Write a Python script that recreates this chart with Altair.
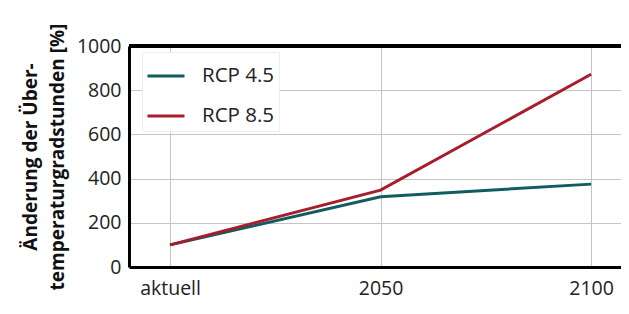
import altair as alt
import pandas as pd

periods = ["aktuell", "2050", "2100"]
series_names = ["RCP 4.5", "RCP 8.5"]
rcp45 = [100, 318, 375]
rcp85 = [100, 348, 872]
colors = ["#115c61", "#a61e2c"]
y_ticks = [0, 200, 400, 600, 800, 1000]

rows = []
for i, p in enumerate(periods):
    rows.append({"idx": i, "period": p, "series": series_names[0], "value": rcp45[i]})
    rows.append({"idx": i, "period": p, "series": series_names[1], "value": rcp85[i]})
df = pd.DataFrame(rows)

W, H = 492, 221
FONT = "Open Sans"

label_expr = "datum.value == 0 ? 'aktuell' : datum.value == 1 ? '2050' : '2100'"
pad = "\u00a0\u00a0\u00a0"

lines = alt.Chart(df).mark_line(strokeWidth=3).encode(
    x=alt.X("idx:Q",
            scale=alt.Scale(domain=[-0.195, 2.142], nice=False, zero=False),
            axis=alt.Axis(values=[0, 1, 2], labelExpr=label_expr, title=None,
                          grid=True, ticks=False, labelPadding=12,
                          domainWidth=3, domainColor="black")),
    y=alt.Y("value:Q",
            scale=alt.Scale(domain=[0, 1000], nice=False),
            axis=alt.Axis(values=y_ticks, format="d", grid=True, ticks=False, labelPadding=8,
                          title=["Änderung der Über-", "temperaturgradstunden [%]"],
                          titleFontWeight="bold", titleFontSize=19, titleLineHeight=27,
                          titlePadding=9, domainWidth=3, domainColor="black")),
    color=alt.Color("series:N",
                    scale=alt.Scale(domain=series_names, range=colors),
                    legend=alt.Legend(title=None, orient="none", legendX=13, legendY=6,
                                      symbolType="stroke", symbolSize=1369,
                                      symbolStrokeWidth=3, labelFontSize=20.5,
                                      labelExpr="datum.label + '" + pad + "'",
                                      labelOffset=16, rowPadding=9, padding=4,
                                      fillColor="white", strokeColor="#eeeeee",
                                      labelColor="#222222")),
)

top = alt.Chart(df).mark_rule(color="black", strokeWidth=3).encode(
    x=alt.value(0), x2=alt.value(W), y=alt.value(0)
)

chart = alt.layer(lines, top).properties(
    width=W, height=H,
    autosize=alt.AutoSizeParams(type="none"),
    padding={"left": 121, "top": 38, "right": 0, "bottom": 39},
).configure_view(stroke=None).configure_axis(
    labelFont=FONT, titleFont=FONT, labelFontSize=19.5, labelColor="#222222",
    titleColor="#111111", gridColor="#c4c4c4", gridWidth=1
).configure_legend(labelFont=FONT)

chart.save("out.html", embed_options={"renderer": "svg", "actions": False})
